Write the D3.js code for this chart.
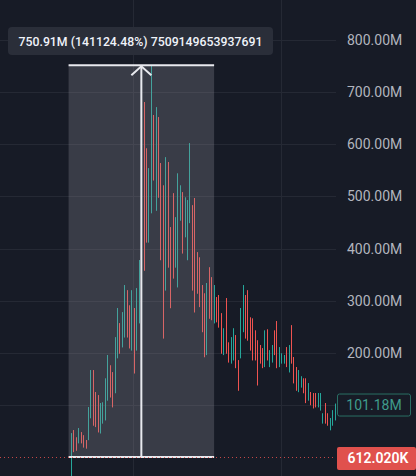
<!DOCTYPE html>
<html><head><meta charset="utf-8">
<script src="https://cdn.jsdelivr.net/npm/d3@7"></script>
<style>html,body{margin:0;padding:0;background:#171b26;overflow:hidden}</style>
</head><body><svg id="c" width="416" height="476"></svg>
<script>
// candle data (values in millions)
const open  = [12,52,38,27,48,42,33,33,75,167,125,119,46,65,71,109,176,163,123,190,257,211,230,320,291,205,286,205,257,343,681,592,412,468,656,473,652,564,521,320,566,441,506,364,326,454,508,422,378,449,483,497,393,383,330,314,196,364,345,257,307,311,276,196,305,220,180,186,234,186,190,240,311,320,268,266,243,224,215,209,173,245,173,182,243,261,173,180,180,211,163,253,192,173,125,134,151,151,109,125,123,123,96,90,65,104,84,52,61,71];
const high  = [46,52,38,56,48,42,33,96,167,167,125,119,104,105,151,196,176,163,230,286,257,278,330,320,291,320,286,324,378,560,681,592,554,751.52,656,671,652,564,521,575,566,441,506,460,544,521,508,498,493,602,483,497,393,383,330,314,334,364,345,330,307,311,276,247,305,220,230,247,234,186,286,330,311,320,268,266,243,224,215,209,243,245,205,215,243,261,211,199,196,211,215,253,192,173,167,155,151,151,142,125,123,123,123,123,84,104,84,75,90,103];
const low   = [-40,10,13,27,27,19,17,33,75,61,58,48,46,65,71,109,115,96,123,190,199,211,230,230,209,205,161,205,257,343,358,412,412,468,531,473,498,378,228,320,364,286,343,364,326,454,391,422,378,449,320,278,314,288,240,192,196,266,263,257,259,249,199,196,199,182,180,186,171,128,190,240,228,224,205,186,186,138,180,171,173,186,173,182,196,171,173,180,180,173,163,180,142,128,125,134,123,104,109,100,94,96,96,90,65,65,61,52,61,71];
const close = [46,10,13,56,27,19,17,96,167,61,58,48,104,105,151,196,115,96,230,286,199,278,330,230,209,320,161,324,378,560,358,412,554,700,531,671,498,378,228,575,364,286,343,460,544,521,391,498,493,602,320,278,314,288,240,192,334,266,263,330,259,249,199,247,199,182,230,247,171,128,286,330,228,224,205,186,186,138,180,171,243,186,205,215,196,171,211,199,196,173,215,180,142,128,167,155,123,104,142,100,94,96,123,123,84,65,61,75,90,101.18];

const yTicks  = [100,200,300,400,500,600,700,800];
const yLabels = [200,300,400,500,600,700,800];
const timeGrid = [25.6, 86.8];           // vertical grid positions (bar index)

const measureFrom = 0.612, measureTo = 751.52;
const measureStart = -1.0, measureEnd = 59.2;
const measureText = "750.91M (141124.48%) 7509149653937691";
const lastPrice = 101.18, lastLabel = "101.18M";
const basePrice = 0.612, baseLabel = "612.020K";

const W = 416, H = 476, plotRight = 336;
const UP = "#26a69a", DOWN = "#ef5350";
const FONT = "Roboto, 'Noto Sans', sans-serif";

const svg = d3.select("#c");
svg.append("rect").attr("width", W).attr("height", H).attr("fill", "#171b26");

const n = close.length;
const x = d3.scaleLinear().domain([0, n - 1]).range([71, 334.5]);
const y = d3.scaleLinear().domain([0, 800]).range([457.3, 40]);

// grid
const g = svg.append("g");
g.selectAll("line.h").data(yTicks).join("line")
  .attr("x1", 0).attr("x2", plotRight)
  .attr("y1", d => Math.round(y(d)) + 0.5).attr("y2", d => Math.round(y(d)) + 0.5)
  .attr("stroke", "#252934").attr("stroke-width", 1);
g.selectAll("line.v").data(timeGrid).join("line")
  .attr("x1", d => Math.round(x(d)) + 0.5).attr("x2", d => Math.round(x(d)) + 0.5)
  .attr("y1", 0).attr("y2", H)
  .attr("stroke", "#252934").attr("stroke-width", 1);

// candles
const idx = d3.range(n);
const cg = svg.append("g");
cg.selectAll("line").data(idx).join("line")
  .attr("x1", i => Math.round(x(i)) + 0.5).attr("x2", i => Math.round(x(i)) + 0.5)
  .attr("y1", i => y(high[i])).attr("y2", i => y(low[i]))
  .attr("stroke", i => close[i] >= open[i] ? UP : DOWN).attr("stroke-width", 1);
cg.selectAll("rect").data(idx).join("rect")
  .attr("x", i => Math.round(x(i))).attr("width", 1)
  .attr("y", i => y(Math.max(open[i], close[i])))
  .attr("height", i => Math.max(1, Math.abs(y(open[i]) - y(close[i]))))
  .attr("fill", i => close[i] >= open[i] ? UP : DOWN);

// measure tool
const mx0 = x(measureStart), mx1 = x(measureEnd), my0 = y(measureFrom), my1 = y(measureTo);
const mxc = (mx0 + mx1) / 2;
svg.append("rect").attr("x", mx0).attr("y", my1).attr("width", mx1 - mx0).attr("height", my0 - my1)
  .attr("fill", "rgba(150,153,163,0.27)");
svg.append("line").attr("x1", mx0).attr("x2", mx1).attr("y1", my1).attr("y2", my1)
  .attr("stroke", "#e8e9ee").attr("stroke-width", 2);
svg.append("line").attr("x1", mx0).attr("x2", mx1).attr("y1", my0).attr("y2", my0)
  .attr("stroke", "#e8e9ee").attr("stroke-width", 2);
svg.append("line").attr("x1", mxc).attr("x2", mxc).attr("y1", my0).attr("y2", my1 + 1)
  .attr("stroke", "#e8e9ee").attr("stroke-width", 2);
svg.append("path").attr("d", `M${mxc - 10},${my1 + 10}L${mxc},${my1 + 1}L${mxc + 10},${my1 + 10}`)
  .attr("fill", "none").attr("stroke", "#e8e9ee").attr("stroke-width", 2);

// base price dotted line
svg.append("line").attr("x1", 0).attr("x2", plotRight).attr("y1", Math.round(y(basePrice)) + 0.5).attr("y2", Math.round(y(basePrice)) + 0.5)
  .attr("stroke", DOWN).attr("stroke-width", 1).attr("stroke-dasharray", "1,3").attr("opacity", 0.8);

// right axis
const axis = d3.axisRight(y).tickValues(yLabels).tickSize(0).tickPadding(11)
  .tickFormat(d => d3.format(".2f")(d) + "M");
const ax = svg.append("g").attr("transform", `translate(${plotRight},0)`).call(axis);
ax.select(".domain").remove();
ax.selectAll("text").attr("fill", "#b2b5be").attr("font-size", 14).attr("font-family", FONT);

// last price label
const ly = y(lastPrice);
svg.append("rect").attr("x", 337.5).attr("y", ly - 10.5).attr("width", 73).attr("height", 22).attr("rx", 2)
  .attr("fill", "#171b26").attr("stroke", "#2a6e64").attr("stroke-width", 1);
svg.append("text").attr("x", 374).attr("y", ly + 5.5).attr("text-anchor", "middle")
  .attr("fill", "#3f9c8c").attr("font-size", 14).attr("font-family", FONT).text(lastLabel);

// base price label
const by = y(basePrice);
svg.append("rect").attr("x", 337).attr("y", by - 10).attr("width", 79).attr("height", 23).attr("rx", 2)
  .attr("fill", "#e0514d");
svg.append("text").attr("x", 378).attr("y", by + 6.5).attr("text-anchor", "middle")
  .attr("fill", "#ffffff").attr("font-size", 14).attr("font-weight", 600).attr("font-family", FONT).text(baseLabel);

// measure tooltip
svg.append("rect").attr("x", 8).attr("y", 27).attr("width", 265).attr("height", 28).attr("rx", 4)
  .attr("fill", "#2a2e39");
svg.append("text").attr("x", 140.5).attr("y", 45.5).attr("text-anchor", "middle")
  .attr("fill", "#f0f3fa").attr("font-size", 12.3).attr("font-weight", 500).attr("font-family", FONT).text(measureText);
</script></body></html>
